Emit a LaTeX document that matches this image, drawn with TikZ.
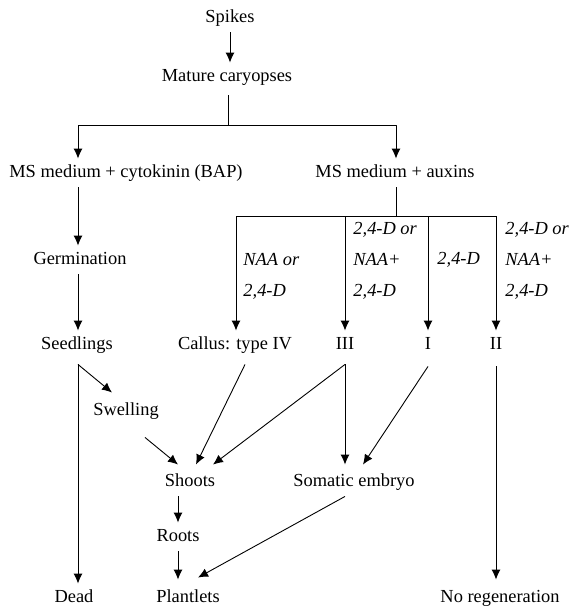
\documentclass[tikz,border=0pt]{standalone}
\usepackage{fontspec}
\setmainfont{Liberation Serif}
\usetikzlibrary{arrows.meta}
\tikzset{
  lbl/.style={draw=none,inner sep=0pt,minimum height=28bp,text height=12.5bp,text depth=4bp,font=\fontsize{18.4bp}{22bp}\selectfont},
  cond/.style={draw=none,inner sep=0pt,anchor=west,align=left,font=\itshape\fontsize{18.4bp}{31bp}\selectfont},
}
\begin{document}
\begin{tikzpicture}[>={Latex[length=10bp,width=9bp]},line width=0.9bp,line join=bevel]
\useasboundingbox (0bp,0bp) rectangle (570bp,-611bp);
%%
\node (node_spikes) at (230bp,-18bp) [lbl] {Spikes};
  \node (node_mature) at (227bp,-77bp) [lbl] {Mature caryopses};
  \node (node_mscyt) at (126bp,-173bp) [lbl] {MS medium + cytokinin (BAP)};
  \node (node_msaux) at (395bp,-173bp) [lbl] {MS medium + auxins};
  \node (node_germ) at (80bp,-260bp) [lbl] {Germination};
  \node (node_seed) at (77bp,-345bp) [lbl] {Seedlings};
  \node (node_callus) at (235bp,-345bp) [lbl] {Callus: type IV};
  \node (node_iii) at (345bp,-345bp) [lbl] {III};
  \node (node_i) at (428bp,-345bp) [lbl] {I};
  \node (node_ii) at (496bp,-345bp) [lbl] {II};
  \node (node_swell) at (126bp,-411bp) [lbl] {Swelling};
  \node (node_shoots) at (190bp,-482bp) [lbl] {Shoots};
  \node (node_somatic) at (354bp,-482bp) [lbl] {Somatic embryo};
  \node (node_roots) at (178bp,-537bp) [lbl] {Roots};
  \node (node_plantlets) at (188bp,-598bp) [lbl] {Plantlets};
  \node (node_dead) at (74bp,-598bp) [lbl] {Dead};
  \node (node_noregen) at (500bp,-598bp) [lbl] {No regeneration};
  \node (cond_iv) at (243bp,-276bp) [cond] {NAA or\\2,4-D};
  \node (cond_iii) at (353bp,-261bp) [cond] {2,4-D or\\NAA+\\2,4-D};
  \node (cond_i) at (437bp,-260bp) [cond] {2,4-D};
  \node (cond_ii) at (505bp,-261bp) [cond] {2,4-D or\\NAA+\\2,4-D};
  \coordinate (c_top) at (228bp,-125bp);
  \coordinate (c_left) at (78bp,-125bp);
  \coordinate (c_right) at (396bp,-125bp);
  \coordinate (c_aux) at (396bp,-216bp);
  \coordinate (c_auxleft) at (236bp,-216bp);
  \coordinate (c_auxright) at (496bp,-216bp);
  \draw [black,->] (node_spikes.south) -- (node_spikes.south |- node_mature.north);
  \draw [black] ([yshift=-4bp]node_mature.south -| c_top) -- (c_top);
  \draw [black,->] (c_left) -- (c_right) -- (c_right |- node_msaux.north);
  \draw [black,->] (c_left) -- (c_left |- node_mscyt.north);
  \draw [black,->] (c_left |- node_mscyt.south) -- (c_left |- node_germ.north);
  \draw [black,->] (c_left |- node_germ.south) -- (c_left |- node_seed.north);
  \draw [black] (node_msaux.south -| c_aux) -- (c_aux);
  \draw [black] (c_auxleft) -- (c_auxright);
  \draw [black,->] (c_auxleft) -- (c_auxleft |- node_callus.north);
  \draw [black,->] (node_iii.north |- c_aux) -- (node_iii.north);
  \draw [black,->] (node_i.north |- c_aux) -- (node_i.north);
  \draw [black,->] (c_auxright) -- (node_ii.north);
  \draw [black,->] ([yshift=-5bp]c_left |- node_seed.south) -- (c_left |- node_dead.north);
  \draw [black,->] ([yshift=-5bp]c_left |- node_seed.south) -- ([xshift=-14bp,yshift=4bp]node_swell.north);
  \draw [black,->] ([shift={(19bp,-12bp)}]node_swell.south) -- ([xshift=-12bp,yshift=3bp]node_shoots.north);
  \draw [black,->] ([shift={(10bp,-5bp)}]node_callus.south) -- ([xshift=6bp,yshift=3bp]node_shoots.north);
  \draw [black,->] ([yshift=-5bp]node_iii.south) -- ([xshift=23bp,yshift=3bp]node_shoots.north);
  \draw [black,->] ([yshift=-5bp]node_iii.south) -- ([yshift=3bp]node_iii.south |- node_somatic.north);
  \draw [black,->] ([yshift=-7bp]node_i.south) -- ([xshift=9bp,yshift=3bp]node_somatic.north);
  \draw [black,->] ([yshift=-7bp]node_ii.south) -- ([yshift=4bp]node_ii.south |- node_noregen.north);
  \draw [black,->] (node_roots.north |- node_shoots.south) -- (node_roots.north);
  \draw [black,->] (node_roots.south) -- ([yshift=4bp]node_roots.south |- node_plantlets.north);
  \draw [black,->] ([xshift=-9bp]node_somatic.south) -- ([xshift=10bp,yshift=6bp]node_plantlets.north);
%
\end{tikzpicture}
\end{document}
